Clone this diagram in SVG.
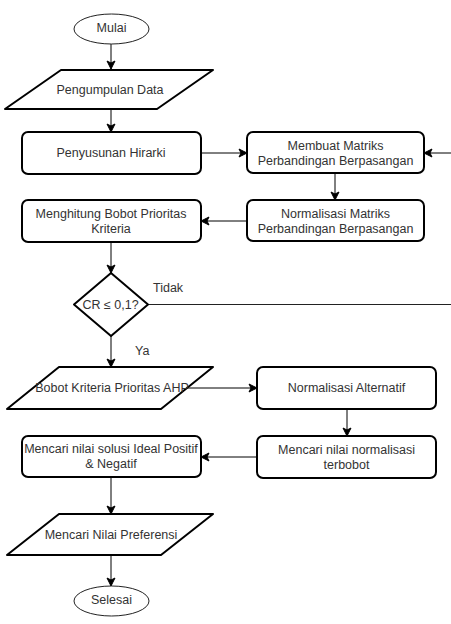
<svg xmlns="http://www.w3.org/2000/svg" width="451" height="624" viewBox="0 0 451 624">
<style>
.box{fill:#fff;stroke:#000;stroke-width:2}
.term{fill:#fff;stroke:#222;stroke-width:1}
.para{fill:#fff;stroke:#000;stroke-width:2;stroke-linejoin:round}
.t{font-family:"Liberation Sans",Arial,sans-serif;font-size:12.5px;fill:#333;text-anchor:middle;dominant-baseline:central}
.lbl{font-family:"Liberation Sans",Arial,sans-serif;font-size:12.5px;fill:#333;dominant-baseline:central}
.c{fill:none;stroke:#000;stroke-width:1}
.cg{fill:none;stroke:#222;stroke-width:1}
</style>
<defs>
<marker id="ar" markerUnits="userSpaceOnUse" markerWidth="10" markerHeight="10" refX="9" refY="5" orient="auto">
<path d="M1,1 L9,5 L1,9 L3,5 z" fill="#000" stroke="#000" stroke-width="1"/>
</marker>
</defs>
<rect width="451" height="624" fill="#fff"/>
<g id="connectors">
<line class="c" x1="111" y1="44" x2="111" y2="69" marker-end="url(#ar)"/>
<line class="c" x1="111" y1="109" x2="111" y2="132" marker-end="url(#ar)"/>
<line class="c" x1="201" y1="153" x2="247" y2="153" marker-end="url(#ar)"/>
<line class="c" x1="451" y1="153" x2="424" y2="153" marker-end="url(#ar)"/>
<line class="c" x1="335" y1="173" x2="335" y2="200" marker-end="url(#ar)"/>
<line class="c" x1="247" y1="221" x2="201" y2="221" marker-end="url(#ar)"/>
<line class="c" x1="111" y1="242" x2="111" y2="273" marker-end="url(#ar)"/>
<line class="cg" x1="148" y1="304.5" x2="451" y2="304.5"/>
<line class="c" x1="111" y1="336" x2="111" y2="367" marker-end="url(#ar)"/>
<line class="c" x1="187" y1="388" x2="257" y2="388" marker-end="url(#ar)"/>
<line class="c" x1="347" y1="409" x2="347" y2="436" marker-end="url(#ar)"/>
<line class="c" x1="257" y1="457" x2="201" y2="457" marker-end="url(#ar)"/>
<line class="c" x1="111" y1="477" x2="111" y2="514" marker-end="url(#ar)"/>
<line class="c" x1="111" y1="555" x2="111" y2="586" marker-end="url(#ar)"/>
<text class="lbl" x="153" y="288">Tidak</text>
<text class="lbl" x="135" y="351">Ya</text>
</g>
<g id="mulai">
<ellipse class="term" cx="111.5" cy="29" rx="37.5" ry="15"/>
<text class="t" x="111.5" y="28">Mulai</text>
</g>
<g id="pengumpulan">
<polygon class="para" points="61,70 213,70 157,109 5,109"/>
<text class="t" x="110" y="90">Pengumpulan Data</text>
</g>
<g id="penyusunan">
<rect class="box" x="22" y="132" width="179" height="42" rx="6"/>
<text class="t" x="111" y="152.5">Penyusunan Hirarki</text>
</g>
<g id="membuat">
<rect class="box" x="247" y="132" width="177" height="41" rx="6"/>
<text class="t" x="335.5" y="145.5">Membuat Matriks</text>
<text class="t" x="335.5" y="160.5">Perbandingan Berpasangan</text>
</g>
<g id="normalisasi-matriks">
<rect class="box" x="247" y="200" width="177" height="41" rx="6"/>
<text class="t" x="335.5" y="213.5">Normalisasi Matriks</text>
<text class="t" x="335.5" y="228.5">Perbandingan Berpasangan</text>
</g>
<g id="menghitung">
<rect class="box" x="22" y="200" width="179" height="42" rx="6"/>
<text class="t" x="111" y="213.5">Menghitung Bobot Prioritas</text>
<text class="t" x="111" y="228.5">Kriteria</text>
</g>
<g id="cr">
<polygon class="para" points="111,273 148,304.5 111,336 74,304.5"/>
<text class="t" x="110.5" y="304.5">CR ≤ 0,1?</text>
</g>
<g id="bobot">
<polygon class="para" points="59,367 213,367 161,409 7,409"/>
<text class="t" x="112" y="388">Bobot Kriteria Prioritas AHP</text>
</g>
<g id="normalisasi-alternatif">
<rect class="box" x="257" y="367" width="179" height="42" rx="6"/>
<text class="t" x="346.5" y="388">Normalisasi Alternatif</text>
</g>
<g id="terbobot">
<rect class="box" x="257" y="436" width="179" height="42" rx="6"/>
<text class="t" x="346.5" y="449.5">Mencari nilai normalisasi</text>
<text class="t" x="346.5" y="464.5">terbobot</text>
</g>
<g id="ideal">
<rect class="box" x="22" y="436" width="179" height="41" rx="6"/>
<text class="t" x="111" y="448.5">Mencari nilai solusi Ideal Positif</text>
<text class="t" x="111" y="463.5">&amp; Negatif</text>
</g>
<g id="preferensi">
<polygon class="para" points="59,514 213,514 161,555 7,555"/>
<text class="t" x="111" y="535">Mencari Nilai Preferensi</text>
</g>
<g id="selesai">
<ellipse class="term" cx="111.5" cy="601" rx="37.5" ry="15"/>
<text class="t" x="111.5" y="600">Selesai</text>
</g>
</svg>
